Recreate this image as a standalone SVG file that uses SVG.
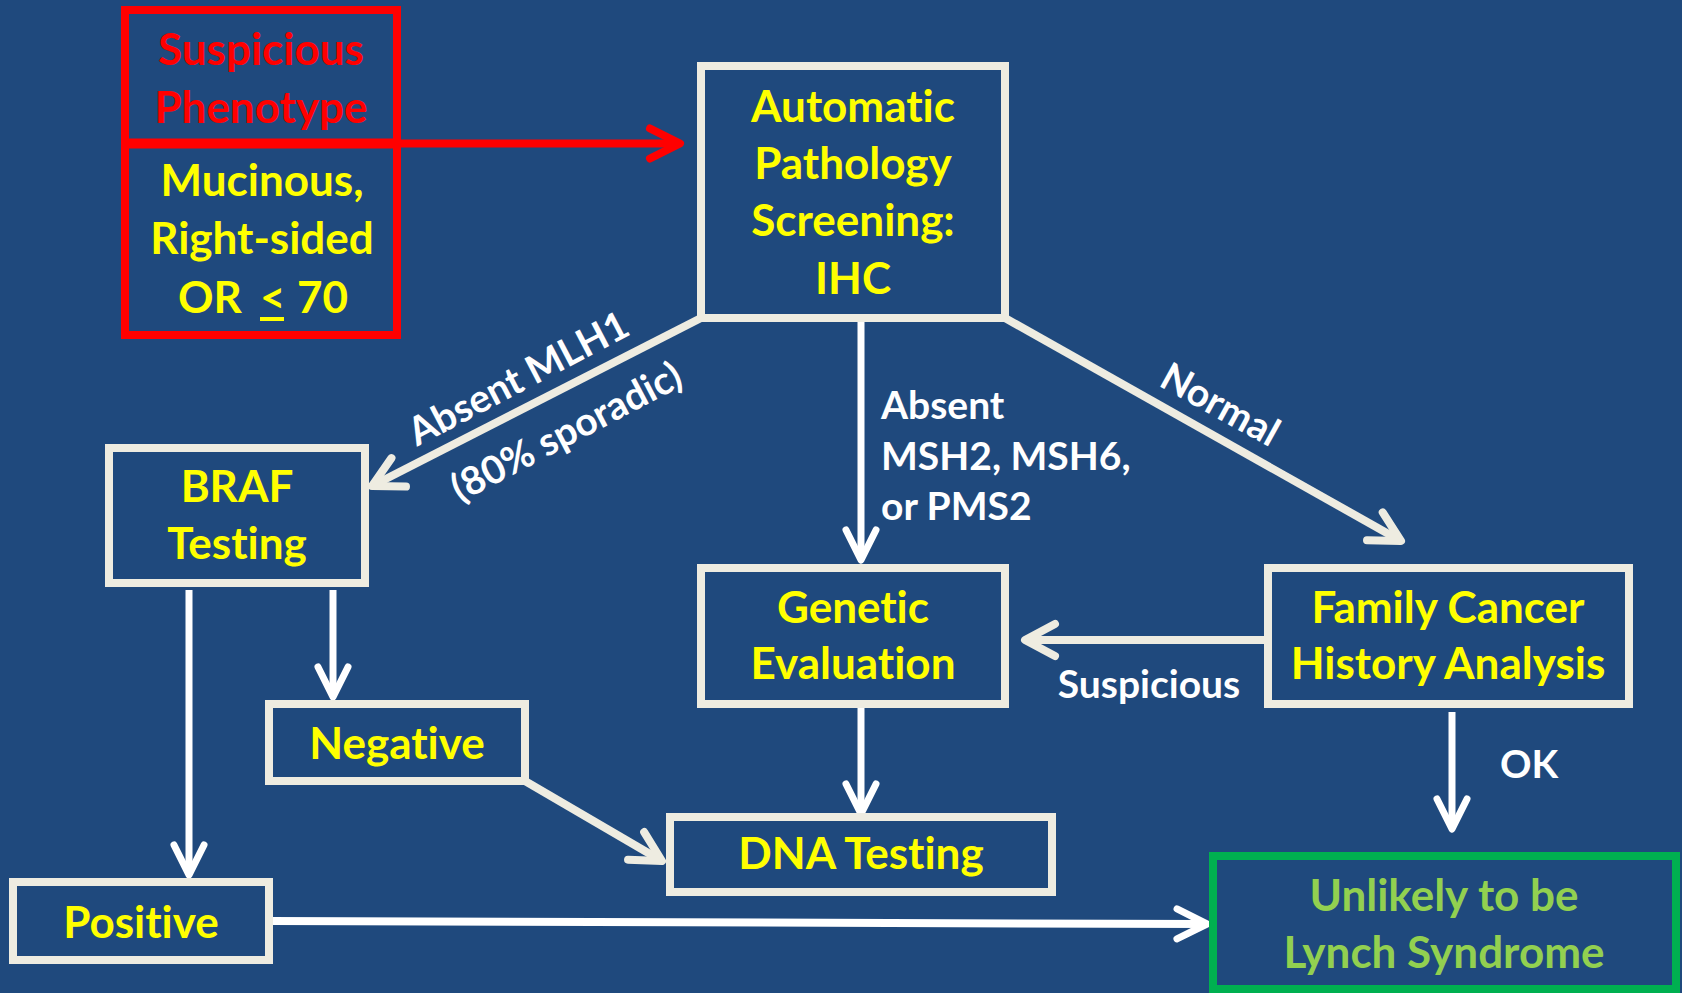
<svg xmlns="http://www.w3.org/2000/svg" width="1682" height="993" viewBox="0 0 1682 993">
  <style>
    text { font-family: Lato, "Liberation Sans", sans-serif; font-weight: bold; font-variant-ligatures: none; font-feature-settings: "liga" 0; }
    .node { font-size: 44px; fill: #FFFF00; text-anchor: middle; }
    .red { fill: #FF0000; }
    .green { fill: #92D050; }
    .label { font-size: 39px; fill: #FFFFFF; }
    .mid { text-anchor: middle; }
    .box { fill: none; stroke: #EEECE1; stroke-width: 8; }
    .cream { fill: none; stroke: #EEECE1; stroke-width: 8; }
    .white { fill: none; stroke: #FFFFFF; stroke-width: 7; }
  </style>
  <defs>
    <marker id="headCream" markerUnits="userSpaceOnUse" orient="auto" refX="0" refY="0" markerWidth="80" markerHeight="80" viewBox="-40 -40 80 80" overflow="visible">
      <path d="M-30,-16 L0,0 L-30,16" fill="none" stroke="#EEECE1" stroke-width="8" stroke-linecap="round" stroke-linejoin="round"/>
    </marker>
    <marker id="headWhite" markerUnits="userSpaceOnUse" orient="auto" refX="0" refY="0" markerWidth="80" markerHeight="80" viewBox="-40 -40 80 80" overflow="visible">
      <path d="M-30,-15 L0,0 L-30,15" fill="none" stroke="#FFFFFF" stroke-width="7" stroke-linecap="round" stroke-linejoin="round"/>
    </marker>
    <marker id="headRed" markerUnits="userSpaceOnUse" orient="auto" refX="0" refY="0" markerWidth="80" markerHeight="80" viewBox="-40 -40 80 80" overflow="visible">
      <path d="M-30,-15 L0,0 L-30,15" fill="none" stroke="#FF0000" stroke-width="8" stroke-linecap="round" stroke-linejoin="round"/>
    </marker>
  </defs>

  <rect x="0" y="0" width="1682" height="993" fill="#1F497D"/>

  <!-- connectors -->
  <g id="connectors">
    <line x1="401" y1="143.5" x2="680" y2="143.5" stroke="#FF0000" stroke-width="8" marker-end="url(#headRed)"/>
    <line class="cream" x1="701" y1="318" x2="372" y2="486" marker-end="url(#headCream)"/>
    <line class="white" x1="861" y1="322" x2="861" y2="560" marker-end="url(#headWhite)"/>
    <line class="cream" x1="1005" y1="318" x2="1401" y2="541" marker-end="url(#headCream)"/>
    <line class="white" x1="189" y1="590" x2="189" y2="875" marker-end="url(#headWhite)"/>
    <line class="white" x1="333" y1="590" x2="333" y2="697" marker-end="url(#headWhite)"/>
    <line class="cream" x1="525" y1="781" x2="662" y2="861" marker-end="url(#headCream)"/>
    <line class="white" x1="861" y1="708" x2="861" y2="814" marker-end="url(#headWhite)"/>
    <line class="cream" x1="1264" y1="640" x2="1025" y2="640" marker-end="url(#headCream)"/>
    <line class="white" x1="1452" y1="712" x2="1452" y2="829" marker-end="url(#headWhite)"/>
    <line x1="271" y1="921" x2="1207" y2="924" stroke="#FFFFFF" stroke-width="8" marker-end="url(#headWhite)"/>

    <text class="label" transform="translate(518,378) rotate(-27.7)" text-anchor="middle" y="14">Absent MLH1</text>
    <text class="label" transform="translate(567,433) rotate(-27.7)" text-anchor="middle" y="12">(80% sporadic)</text>
    <text class="label" x="881" y="419">Absent</text>
    <text class="label" x="881" y="470">MSH2, MSH6,</text>
    <text class="label" x="881" y="520">or PMS2</text>
    <text class="label" transform="translate(1220,405) rotate(29)" text-anchor="middle" y="13">Normal</text>
    <text class="label mid" x="1149" y="698">Suspicious</text>
    <text class="label mid" x="1529" y="778">OK</text>
  </g>

  <!-- phenotype criteria -->
  <g id="phenotype">
    <rect x="125" y="10" width="272" height="325" fill="none" stroke="#FF0000" stroke-width="8"/>
    <line x1="121" y1="143.5" x2="401" y2="143.5" stroke="#FF0000" stroke-width="10"/>
    <text class="node red" x="261" y="65">Suspicious</text>
    <text class="node red" x="261" y="123">Phenotype</text>
    <text class="node" x="262" y="196">Mucinous,</text>
    <text class="node" x="262" y="254">Right-sided</text>
    <text class="node" style="text-anchor:start" y="313"><tspan x="178">OR</tspan><tspan x="260">&lt;</tspan><tspan x="297">70</tspan></text>
    <line x1="260" y1="319" x2="284" y2="319" stroke="#FFFF00" stroke-width="4"/>
  </g>

  <g id="ihc">
    <rect class="box" x="701" y="66" width="304" height="252"/>
    <text class="node" x="853" y="122">Automatic</text>
    <text class="node" x="853" y="179">Pathology</text>
    <text class="node" x="853" y="236">Screening:</text>
    <text class="node" x="853" y="294">IHC</text>
  </g>

  <g id="braf">
    <rect class="box" x="109" y="448" width="256" height="135"/>
    <text class="node" x="237" y="502">BRAF</text>
    <text class="node" x="237" y="559">Testing</text>
  </g>

  <g id="negative">
    <rect class="box" x="269" y="704" width="256" height="77"/>
    <text class="node" x="397" y="759">Negative</text>
  </g>

  <g id="positive">
    <rect class="box" x="13" y="882" width="256" height="78"/>
    <text class="node" x="141" y="938">Positive</text>
  </g>

  <g id="genetic">
    <rect class="box" x="701" y="568" width="304" height="136"/>
    <text class="node" x="853" y="623">Genetic</text>
    <text class="node" x="853" y="679">Evaluation</text>
  </g>

  <g id="dna">
    <rect class="box" x="670" y="817" width="382" height="75"/>
    <text class="node" x="861" y="869">DNA Testing</text>
  </g>

  <g id="family">
    <rect class="box" x="1268" y="568" width="361" height="136"/>
    <text class="node" x="1448" y="623">Family Cancer</text>
    <text class="node" x="1448" y="679">History Analysis</text>
  </g>

  <g id="unlikely">
    <rect x="1213" y="856" width="463" height="133" fill="none" stroke="#00B050" stroke-width="8"/>
    <text class="node green" x="1444" y="911">Unlikely to be</text>
    <text class="node green" x="1444" y="968">Lynch Syndrome</text>
  </g>
</svg>
